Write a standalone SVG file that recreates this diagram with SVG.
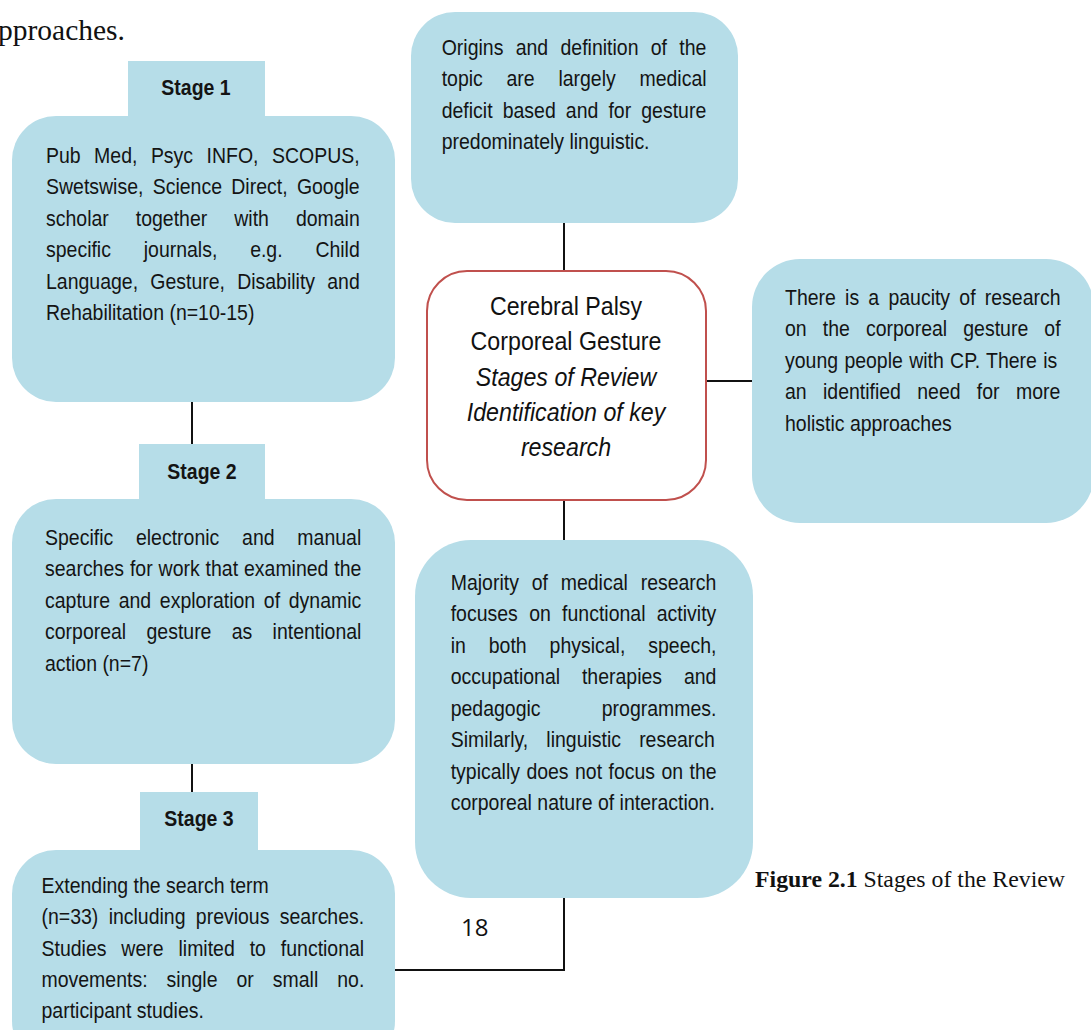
<svg xmlns="http://www.w3.org/2000/svg" width="1091" height="1030" viewBox="0 0 1091 1030">
  <style>
    .box { fill: #b6dde8; }
    .core { fill: #ffffff; stroke: #c0504d; stroke-width: 2; }
    .body { font-family: 'Liberation Sans', Arial, sans-serif; font-size: 22px; fill: #141414; }
    .tab { font-family: 'Liberation Sans', Arial, sans-serif; font-size: 22px; font-weight: bold; fill: #141414; text-anchor: middle; }
    .title { font-family: 'Liberation Sans', Arial, sans-serif; font-size: 25px; fill: #111111; text-anchor: middle; }
    .title .it { font-style: italic; }
    .serif { font-family: 'Liberation Serif', 'Times New Roman', serif; fill: #111111; }
    .conn { stroke: #111111; stroke-width: 2; fill: none; }
  </style>

  <rect width="1091" height="1030" fill="#ffffff"/>

  <!-- running text from the page above the figure -->
  <text class="serif" x="-15.1" y="40" font-size="29.5">approaches.</text>

  <!-- connectors -->
  <g id="connectors">
    <line class="conn" x1="192" y1="400" x2="192" y2="446"/>
    <line class="conn" x1="192" y1="762" x2="192" y2="794"/>
    <line class="conn" x1="564" y1="221" x2="564" y2="272"/>
    <line class="conn" x1="705" y1="381" x2="754" y2="381"/>
    <line class="conn" x1="564" y1="500" x2="564" y2="542"/>
    <polyline class="conn" points="393,970 564,970 564,896"/>
  </g>

  <!-- Stage 1 -->
  <g id="stage1">
    <rect class="box" x="128" y="61" width="137" height="60"/>
    <g transform="translate(196 0) scale(0.886 1)">
      <text class="tab" x="0" y="95.5">Stage 1</text>
    </g>
    <rect class="box" x="12" y="116" width="383" height="286" rx="44" ry="44"/>
    <g class="body" transform="translate(46 0) scale(0.886 1)">
      <text y="163" style="word-spacing:9.09px">Pub Med, Psyc INFO, SCOPUS,</text>
      <text y="194.5" style="word-spacing:4.4px">Swetswise, Science Direct, Google</text>
      <text y="226" style="word-spacing:24.38px">scholar together with domain</text>
      <text y="257.5" style="word-spacing:30.9px">specific journals, e.g. Child</text>
      <text y="289" style="word-spacing:7.67px">Language, Gesture, Disability and</text>
      <text y="320.5">Rehabilitation (n=10-15)</text>
    </g>
  </g>

  <!-- Stage 2 -->
  <g id="stage2">
    <rect class="box" x="139" y="444" width="126" height="60"/>
    <g transform="translate(202 0) scale(0.886 1)">
      <text class="tab" x="0" y="479.5">Stage 2</text>
    </g>
    <rect class="box" x="12" y="499" width="383" height="265" rx="44" ry="44"/>
    <g class="body" transform="translate(45 0) scale(0.886 1)">
      <text y="545" style="word-spacing:19.6px">Specific electronic and manual</text>
      <text y="576.5" style="word-spacing:0.56px">searches for work that examined the</text>
      <text y="608" style="word-spacing:3.72px">capture and exploration of dynamic</text>
      <text y="639.5" style="word-spacing:16.8px">corporeal gesture as intentional</text>
      <text y="671">action (n=7)</text>
    </g>
  </g>

  <!-- Stage 3 -->
  <g id="stage3">
    <rect class="box" x="140" y="792" width="118" height="62"/>
    <g transform="translate(199 0) scale(0.886 1)">
      <text class="tab" x="0" y="826">Stage 3</text>
    </g>
    <rect class="box" x="12" y="850" width="383" height="215" rx="44" ry="44"/>
    <g class="body" transform="translate(41.5 0) scale(0.886 1)">
      <text y="893">Extending the search term</text>
      <text y="924.5" style="word-spacing:5.53px">(n=33) including previous searches.</text>
      <text y="956" style="word-spacing:10.72px">Studies were limited to functional</text>
      <text y="987.5" style="word-spacing:15.35px">movements: single or small no.</text>
      <text y="1018">participant studies.</text>
    </g>
  </g>

  <!-- Origins -->
  <g id="origins">
    <rect class="box" x="411" y="12" width="327" height="211" rx="44" ry="44"/>
    <g class="body" transform="translate(441.7 0) scale(0.886 1)">
      <text y="55" style="word-spacing:7.79px">Origins and definition of the</text>
      <text y="86.5" style="word-spacing:20.65px">topic are largely medical</text>
      <text y="118" style="word-spacing:5.3px">deficit based and for gesture</text>
      <text y="149.5">predominately linguistic.</text>
    </g>
  </g>

  <!-- central topic -->
  <g id="topic">
    <rect class="core" x="427" y="271" width="279" height="229" rx="40" ry="40"/>
    <g class="title" transform="translate(566 0) scale(0.928 1)">
      <text x="0" y="315">Cerebral Palsy</text>
      <text x="0" y="350.5">Corporeal Gesture</text>
      <text class="it" x="0" y="386">Stages of Review</text>
      <text class="it" x="0" y="421.5">Identification of key</text>
      <text class="it" x="0" y="456.5">research</text>
    </g>
  </g>

  <!-- research gap -->
  <g id="gap">
    <rect class="box" x="752" y="259" width="342" height="264" rx="48" ry="48"/>
    <g class="body" transform="translate(785 0) scale(0.886 1)">
      <text y="305" style="word-spacing:4.29px">There is a paucity of research</text>
      <text y="336.5" style="word-spacing:12.08px">on the corporeal gesture of</text>
      <text y="368" style="word-spacing:1.02px">young people with CP. There is</text>
      <text y="399.5" style="word-spacing:12.3px">an identified need for more</text>
      <text y="431">holistic approaches</text>
    </g>
  </g>

  <!-- existing research focus -->
  <g id="focus">
    <rect class="box" x="415" y="540" width="338" height="358" rx="56" ry="56"/>
    <g class="body" transform="translate(450.7 0) scale(0.886 1)">
      <text y="590" style="word-spacing:8.35px">Majority of medical research</text>
      <text y="621.4" style="word-spacing:6.66px">focuses on functional activity</text>
      <text y="652.9" style="word-spacing:19.75px">in both physical, speech,</text>
      <text y="684.3" style="word-spacing:18.6px">occupational therapies and</text>
      <text y="715.7" style="word-spacing:62.98px">pedagogic programmes.</text>
      <text y="747.1" style="word-spacing:14.33px">Similarly, linguistic research</text>
      <text y="778.6" style="word-spacing:1.13px">typically does not focus on the</text>
      <text y="810">corporeal nature of interaction.</text>
    </g>
  </g>

  <!-- caption and page number -->
  <text class="serif" x="755" y="887" font-size="23.5" textLength="310" lengthAdjust="spacingAndGlyphs"><tspan font-weight="bold">Figure 2.1</tspan> Stages of the Review</text>
  <text x="461" y="936" font-family="'Open Sans', 'Liberation Sans', sans-serif" font-size="24" fill="#111111">18</text>
</svg>
